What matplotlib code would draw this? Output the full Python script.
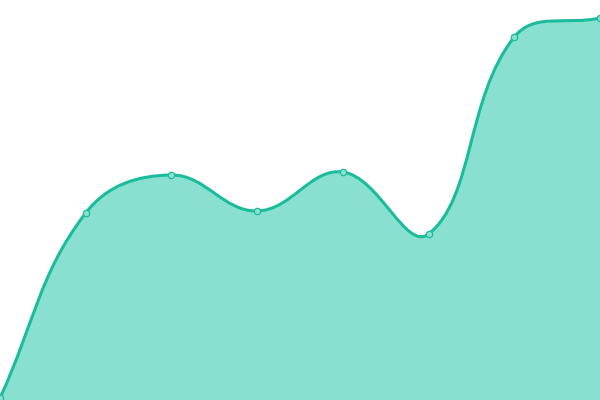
import numpy as np
import matplotlib
matplotlib.use('Agg')
import matplotlib.pyplot as plt
from matplotlib.path import Path
from matplotlib.patches import PathPatch

# point index along x and the values
x_vals = [0, 1, 2, 3, 4, 5, 6, 7]
y_vals = [2, 187, 225, 189, 228, 166, 363, 382]

line_color = '#1abc9c'
fill_color = '#8ae0d0'
tension = 0.4


def spline_controls(pts, t):
    # control points scaled by the lengths of the neighbouring segments
    n = len(pts)
    c_in = pts.copy()
    c_out = pts.copy()
    for i in range(n):
        cur = pts[i]
        prev = pts[i - 1] if i > 0 else cur
        nxt = pts[i + 1] if i < n - 1 else cur
        d01 = np.hypot(*(cur - prev))
        d12 = np.hypot(*(nxt - cur))
        tot = d01 + d12
        s01 = d01 / tot if tot else 0
        s12 = d12 / tot if tot else 0
        v = nxt - prev
        c_in[i] = cur - v * t * s01
        c_out[i] = cur + v * t * s12
    return c_in, c_out


def curve_path(ax, x, y, close_to=None):
    to_px = ax.transData
    pts = to_px.transform(np.column_stack([x, y]))
    c_in, c_out = spline_controls(pts, tension)
    lo, hi = to_px.transform([(0, 0), (7, 400)])
    verts = [pts[0]]
    codes = [Path.MOVETO]
    for i in range(len(pts) - 1):
        verts += [np.clip(c_out[i], lo, hi), np.clip(c_in[i + 1], lo, hi),
                  pts[i + 1]]
        codes += [Path.CURVE4] * 3
    verts = list(to_px.inverted().transform(np.array(verts)))
    if close_to is not None:
        verts += [(x[-1], close_to), (x[0], close_to), (x[0], y[0])]
        codes += [Path.LINETO, Path.LINETO, Path.CLOSEPOLY]
    return Path(verts, codes)


fig = plt.figure(figsize=(6, 4), dpi=100)
ax = fig.add_axes([0, 0, 1, 1])
ax.set_xlim(0, 7)
ax.set_ylim(0, 400)
ax.axis('off')

ax.add_patch(PathPatch(curve_path(ax, x_vals, y_vals, close_to=0),
                       facecolor=fill_color, edgecolor='none'))
ax.add_patch(PathPatch(curve_path(ax, x_vals, y_vals), facecolor='none',
                       edgecolor=line_color, lw=2.2, capstyle='round'))
ax.plot(x_vals, y_vals, 'o', ms=4.6, mfc=fill_color, mec=line_color,
        mew=0.9, clip_on=False, zorder=5)

fig.savefig('out.png', dpi=100)
